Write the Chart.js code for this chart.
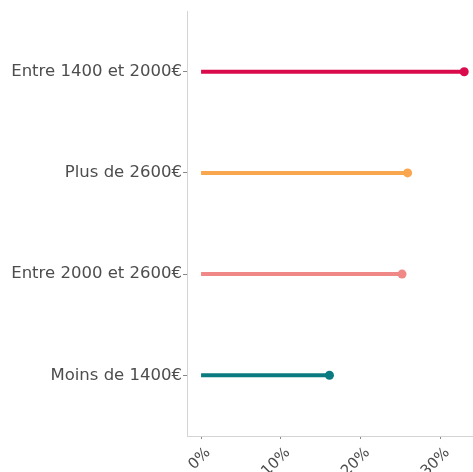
<!DOCTYPE html>
<html>
<head>
<meta charset="utf-8">
<script src="https://cdn.jsdelivr.net/npm/chart.js@4"></script>
<style>
  html, body { margin: 0; padding: 0; background: #fff; overflow: hidden; }
  #wrap { width: 479px; height: 472px; }
</style>
</head>
<body>
<div id="wrap"><canvas id="lolli"></canvas></div>
<script>
// categories top to bottom
const categories = ['Entre 1400 et 2000€', 'Plus de 2600€', 'Entre 2000 et 2600€', 'Moins de 1400€'];
const values = [33.0, 25.9, 25.2, 16.1];
const colors = ['#d90b4c', '#f9a64e', '#ef8886', '#0a7b80'];
const xTicks = [0, 10, 20, 30];

const datasets = categories.map((cat, i) => ({
    label: cat,
    data: [{ x: 0, y: i + 1 }, { x: values[i], y: i + 1 }],
    borderColor: colors[i],
    backgroundColor: colors[i],
    borderWidth: 4,
    pointBorderWidth: 0,
    pointRadius: [0, 4.5],
    pointHoverRadius: [0, 4.5],
    showLine: true,
    tension: 0
}));

const fontFam = "'DejaVu Sans', sans-serif";

const ctx = document.getElementById('lolli').getContext('2d');
new Chart(ctx, {
    type: 'scatter',
    data: { datasets: datasets },
    options: {
        responsive: true,
        maintainAspectRatio: false,
        animation: false,
        layout: { padding: { top: 11, right: 0, left: 0, bottom: 0 } },
        plugins: {
            legend: { display: false },
            tooltip: { enabled: false }
        },
        scales: {
            x: {
                type: 'linear',
                min: -1.765,
                max: 34.29,
                afterBuildTicks: axis => { axis.ticks = xTicks.map(v => ({ value: v })); },
                afterFit: axis => { axis.height = 36; axis.paddingRight = 0; },
                border: { color: '#d4d4d4', width: 1 },
                grid: { display: true, drawOnChartArea: false, tickLength: 3, color: '#888' },
                ticks: {
                    color: '#4d4d4d',
                    font: { family: fontFam, size: 15 },
                    minRotation: 45,
                    maxRotation: 45,
                    padding: 5,
                    labelOffset: 7,
                    callback: v => v + '%'
                }
            },
            y: {
                type: 'linear',
                reverse: true,
                min: 0.4,
                max: 4.6,
                afterBuildTicks: axis => { axis.ticks = categories.map((c, i) => ({ value: i + 1 })); },
                afterFit: axis => { axis.width = 187; },
                border: { color: '#d4d4d4', width: 1 },
                grid: { display: true, drawOnChartArea: false, tickLength: 4, color: '#888' },
                ticks: {
                    color: '#4d4d4d',
                    font: { family: fontFam, size: 16.5 },
                    padding: 1,
                    callback: v => categories[v - 1]
                }
            }
        }
    }
});
</script>
</body>
</html>
